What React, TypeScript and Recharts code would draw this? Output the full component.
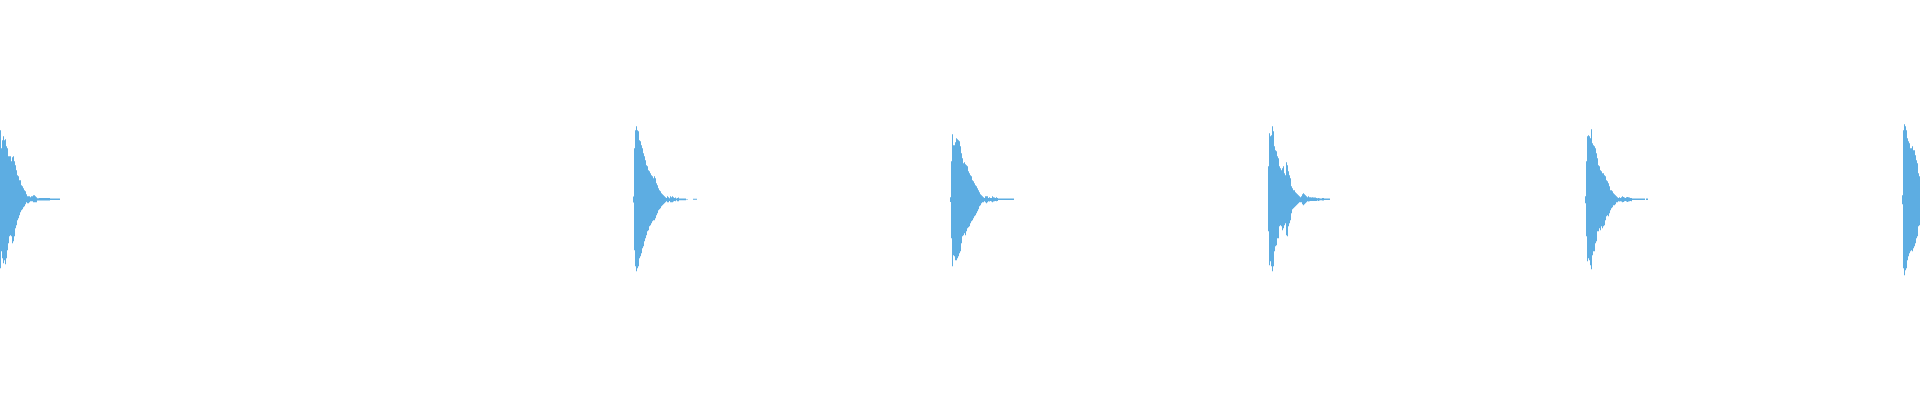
import React from "react";
import { AreaChart, Area, XAxis, YAxis } from "recharts";

// amplitude envelope per pixel column (upper / lower peak), full scale = 200
// null = no signal drawn in that column
const burst1Start = 0;
const burst1Top = [69, 51, 59, 63, 59, 60, 53, 51, 43, 43, 43, 38, 42, 43, 38, 34, 29, 24, 23, 19, 19, 14, 13, 11, 9, 8, 5, 3, 3, 3, 2, 3, 3, 4, 4, 3, 2, 1, 1, 1.3, 1.3, 1.3, 1.3, 1.3, 1.3, 1.3, 1.3, 1.3, 1.3, 1.3, 0.7, 0.7, 0.7, 0.7, 0.7, 0.7, 0.7, 0.7, 0.7, 0.7];
const burst1Bottom = [69, 52, 59, 64, 61, 65, 59, 51, 44, 37, 36, 37, 44, 42, 37, 29, 26, 21, 19, 16, 13, 11, 10, 8, 7, 5, 3, 4, 4, 3, 2, 2, 2, 3, 3, 3, 3, 1.3, 1.3, 1.3, 1.3, 1.3, 1.3, 1.3, 1.3, 1.3, 1.3, 1.3, 1.3, 1.3, 0.7, 0.7, 0.7, 0.7, 0.7, 0.7, 0.7, 0.7, 0.7, 0.7];

const burst2Start = 633;
const burst2Top = [2.7, 51, 69, 73, 69, 68, 59, 58, 54, 51, 46, 43, 39, 34, 33, 29, 28, 26, 24, 23, 21, 23, 21, 16, 14, 11, 9, 8, 6, 5, 4, 3, 2, 1.3, 3, 2, 1, 3, 2, 3, 2, 1.3, 1.7, 0.7, 1.3, 1.7, 0.7, 0.7, 0.7, 0.7, 0.7, 0.7, 0.7, 0.3, 0.3, null, null, null, null, null, 0.5, 0.5, 0.5, 0.5];
const burst2Bottom = [3.3, 51, 67, 72, 69, 67, 59, 57, 54, 49, 47, 42, 39, 36, 32, 31, 27, 26, 24, 22, 21, 21, 19, 16, 14, 11, 10, 9, 7, 6, 5, 4, 3, 2, 3, 3, 1.7, 3, 3, 3, 2.3, 1.7, 2, 1, 2, 2, 1, 1, 1, 1, 1, 1, 1, 0.3, 0.3, null, null, null, null, null, 0.5, 0.5, 0.5, 0.5];

const burst3Start = 950;
const burst3Top = [2, 38, 65, 54, 54, 57, 61, 60, 59, 58, 53, 46, 41, 36, 37, 35, 34, 33, 28, 26, 24, 23, 19, 18, 16, 14, 13, 11, 9, 7, 5, 4, 3, 2, 1.3, 3, 3, 3, 1.3, 2, 1.3, 1.3, 3, 2, 1.7, 1.3, 2, 1.3, 0.7, 0.7, 0.7, 0.7, 0.7, 0.7, 0.7, 0.7, 0.7, 0.7, 0.7, 0.7, 0.7, 0.7, 0.7, 0.7];
const burst3Bottom = [2.7, 39, 67, 56, 57, 61, 61, 59, 57, 54, 52, 44, 37, 36, 34, 36, 32, 29, 28, 27, 24, 22, 21, 19, 17, 16, 14, 12, 10, 7, 6, 4, 3, 3, 2, 3, 4, 3, 2, 2.3, 1.7, 2.3, 3, 2.3, 2, 1.7, 2, 1.7, 0.7, 0.7, 0.7, 0.7, 0.7, 0.7, 0.7, 0.7, 0.7, 0.7, 0.7, 0.7, 0.7, 0.7, 0.7, 0.7];

const burst4Start = 1268;
const burst4Top = [33, 66, 63, 64, 73, 68, 53, 49, 48, 43, 41, 33, 31, 29, 31, 33, 26, 24, 37, 34, 28, 24, 21, 13, 11, 9, 9, 7, 6, 5, 4, 3, 2, 3, 5, 6, 5, 4, 3, 2, 3, 2, 2, 1.7, 2, 1.7, 1.7, 1.7, 1.3, 1, 1.3, 1, 0.7, 0.7, 1.3, 1.3, 0.7, 0.7, 0.7, 0.7, 0.7, 0.7];
const burst4Bottom = [32, 66, 62, 67, 72, 67, 52, 47, 46, 39, 39, 27, 26, 27, 31, 29, 26, 24, 36, 37, 27, 24, 21, 14, 10, 9, 8, 7, 6, 5, 4, 3, 3, 3, 5, 6, 5, 4, 3, 2, 2.3, 2, 1.7, 1.7, 1.7, 1.7, 1.7, 1.7, 1.7, 1.3, 1.7, 1.3, 1, 1, 1.3, 1.3, 0.7, 0.7, 0.7, 0.7, 0.7, 0.7];

const burst5Start = 1585;
const burst5Top = [3, 38, 63, 64, 63, 61, 70, 56, 54, 53, 51, 46, 41, 34, 33, 29, 28, 26, 26, 24, 23, 19, 18, 16, 13, 9, 9, 8, 6, 5, 4, 3, 2, 1.3, 2, 1.3, 2, 3, 2.3, 1.7, 1.3, 2, 2.3, 2, 1.7, 1.3, 1.3, 0.7, 0.7, 0.7, 0.7, 0.7, 0.7, 0.7, 0.7, 0.7, 0.7, 0.7, 0.7, 0.7, null, 0.7, 0.7];
const burst5Bottom = [4, 37, 62, 59, 61, 66, 70, 56, 52, 52, 44, 42, 32, 32, 29, 31, 27, 29, 27, 26, 21, 17, 16, 17, 14, 11, 9, 8, 6, 6, 5, 3, 3, 2, 2.3, 2, 2.3, 3, 2.7, 2, 1.7, 2.3, 2.7, 2.3, 2, 1.7, 2, 0.7, 0.7, 0.7, 0.7, 0.7, 0.7, 0.7, 0.7, 0.7, 0.7, 0.7, 0.7, 0.7, null, 0.7, 0.7];

const burst6Start = 1902;
const burst6Top = [4, 69, 75, 73, 69, 61, 58, 56, 51, 51, 53, 49, 49, 44, 39, 36, 26, 23];
const burst6Bottom = [5, 69, 76, 71, 69, 61, 57, 54, 52, 51, 52, 49, 47, 44, 39, 37, 27, 26];

const bursts = [
  { start: burst1Start, top: burst1Top, bottom: burst1Bottom },
  { start: burst2Start, top: burst2Top, bottom: burst2Bottom },
  { start: burst3Start, top: burst3Top, bottom: burst3Bottom },
  { start: burst4Start, top: burst4Top, bottom: burst4Bottom },
  { start: burst5Start, top: burst5Top, bottom: burst5Bottom },
  { start: burst6Start, top: burst6Top, bottom: burst6Bottom },
];

// each column becomes a flat segment [c, c+1]; nulls break the area
const data: { t: number; range: [number, number] | null }[] = [];
bursts.forEach(({ start, top, bottom }) => {
  top.forEach((hi, i) => {
    const lo = bottom[i];
    const range: [number, number] | null = hi == null || lo == null ? null : [-lo, hi];
    data.push({ t: start + i, range });
    data.push({ t: start + i + 1, range });
  });
  data.push({ t: start + top.length + 0.5, range: null });
});

export default function App() {
  return (
    <div style={{ position: "absolute", left: 0, top: 0, width: 1920, height: 400, background: "#fff" }}>
      <AreaChart width={1920} height={400} data={data} margin={{ top: 0, right: 0, bottom: 0, left: 0 }}>
        <XAxis dataKey="t" type="number" domain={[0, 1920]} hide allowDataOverflow />
        <YAxis type="number" domain={[-200.7, 199.3]} hide allowDataOverflow />
        <Area
          dataKey="range"
          type="linear"
          stroke="none"
          fill="#5dade2"
          fillOpacity={1}
          isAnimationActive={false}
          connectNulls={false}
          dot={false}
          activeDot={false}
        />
      </AreaChart>
    </div>
  );
}
